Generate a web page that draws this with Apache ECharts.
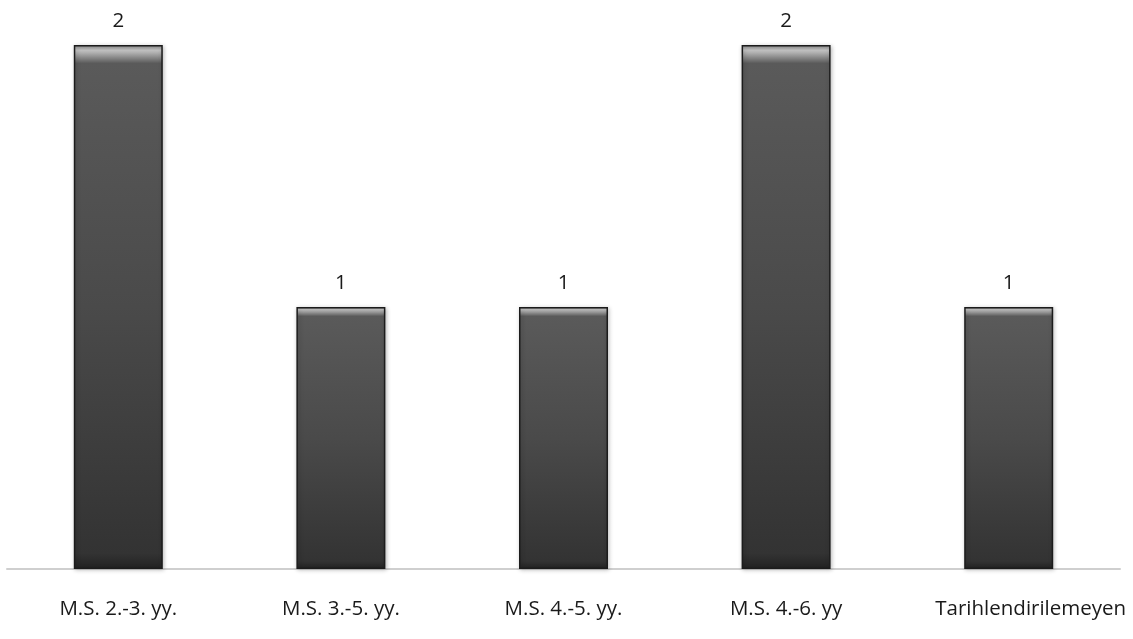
<!DOCTYPE html>
<html><head><meta charset="utf-8">
<script src="https://cdn.jsdelivr.net/npm/echarts@6/dist/echarts.min.js"></script>
<style>html,body{margin:0;padding:0;background:#fff}#c{width:1133px;height:639px}</style>
</head><body><div id="c"></div>
<script>
const categories = ['M.S. 2.-3. yy.', 'M.S. 3.-5. yy.', 'M.S. 4.-5. yy.', 'M.S. 4.-6. yy', 'Tarihlendirilemeyen'];
const values = [2, 1, 1, 2, 1];

const chart = echarts.init(document.getElementById('c'));
chart.setOption({
  animation: false,
  backgroundColor: '#ffffff',
  grid: { left: 7, right: 13, top: 45, bottom: 70, containLabel: false },
  xAxis: {
    type: 'category',
    data: categories.map((c, i) => i === categories.length - 1 ? { value: c, textStyle: { padding: [0, 0, 0, 44] } } : c),
    axisLine: { show: true, lineStyle: { color: '#cfcfcf', width: 2 } },
    axisTick: { show: false },
    axisLabel: { interval: 0, hideOverlap: false, color: '#1a1a1a', fontSize: 20.5, fontFamily: 'Open Sans, Lato, sans-serif', margin: 30 }
  },
  yAxis: {
    type: 'value', min: 0, max: 2, interval: 1,
    show: false, splitLine: { show: false }
  },
  series: [{
    type: 'bar',
    data: values,
    barWidth: 89,
    itemStyle: {
      borderColor: '#1c1c1c',
      borderWidth: 1.5,
      color: {
        type: 'linear', x: 0, y: 0, x2: 0, y2: 1,
        colorStops: [
          { offset: 0, color: '#8a8a8a' },
          { offset: 0.01, color: '#c4c4c4' },
          { offset: 0.035, color: '#5a5a5a' },
          { offset: 0.5, color: '#4a4a4a' },
          { offset: 0.97, color: '#333333' },
          { offset: 1, color: '#222222' }
        ]
      },
      shadowColor: 'rgba(0,0,0,0.25)', shadowBlur: 4, shadowOffsetX: 1, shadowOffsetY: 1
    },
    label: {
      show: true, position: 'top', distance: 13,
      color: '#1a1a1a', fontSize: 20.5, fontFamily: 'Open Sans, Lato, sans-serif'
    }
  }]
});
</script>
</body></html>
